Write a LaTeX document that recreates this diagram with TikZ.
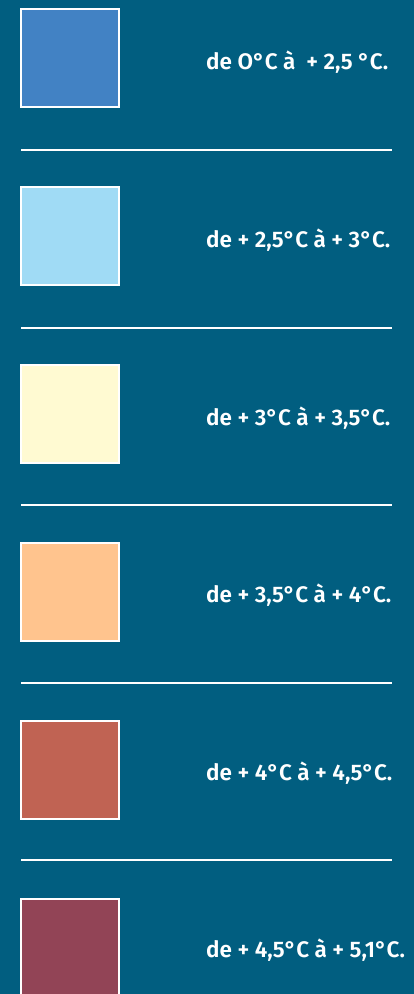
\documentclass[tikz,border=0pt]{standalone}
\usepackage{fontspec}
\setmainfont{Fira Sans}[UprightFont=* SemiBold, BoldFont=* SemiBold]
\definecolor{bg}{HTML}{015E80}
\definecolor{c1}{HTML}{4282C4}
\definecolor{c2}{HTML}{A0DBF5}
\definecolor{c3}{HTML}{FFFAD2}
\definecolor{c4}{HTML}{FFC48E}
\definecolor{c5}{HTML}{C06353}
\definecolor{c6}{HTML}{924456}
\begin{document}
\begin{tikzpicture}[x=1pt,y=-1pt,
  swatch/.style={draw=white,line width=2pt},
  sep/.style={draw=white,line width=2pt},
  lbl/.style={anchor=west,text=white,font=\fontsize{22.5}{26}\selectfont,inner sep=0pt}]
\fill[bg] (0,0) rectangle (414,994);
\useasboundingbox (0,0) rectangle (414,994);
\begin{scope}
\clip (0,0) rectangle (414,994);
\foreach \i/\c in {0/c1,1/c2,2/c3,3/c4,4/c5,5/c6}{
  \filldraw[swatch,fill=\c] (21,9+178*\i) rectangle (119,107+178*\i);
}
\end{scope}
\foreach \i in {0,...,4}{
  \coordinate (l\i a) at (21,150+177.5*\i);
  \coordinate (l\i b) at (392,150+177.5*\i);
  \draw[sep] (l\i a) -- (l\i b);
}
\node[lbl] (t1) at (206,62) {de O°C à\ \ + 2,5 °C.};
\node[lbl] (t2) at (206,240) {de + 2,5°C à + 3°C.};
\node[lbl] (t3) at (206,418) {de + 3°C à + 3,5°C.};
\node[lbl] (t4) at (206,595) {de + 3,5°C à + 4°C.};
\node[lbl] (t5) at (206,773) {de + 4°C à + 4,5°C.};
\node[lbl] (t6) at (206,950) {de + 4,5°C à + 5,1°C.};
\end{tikzpicture}
\end{document}
